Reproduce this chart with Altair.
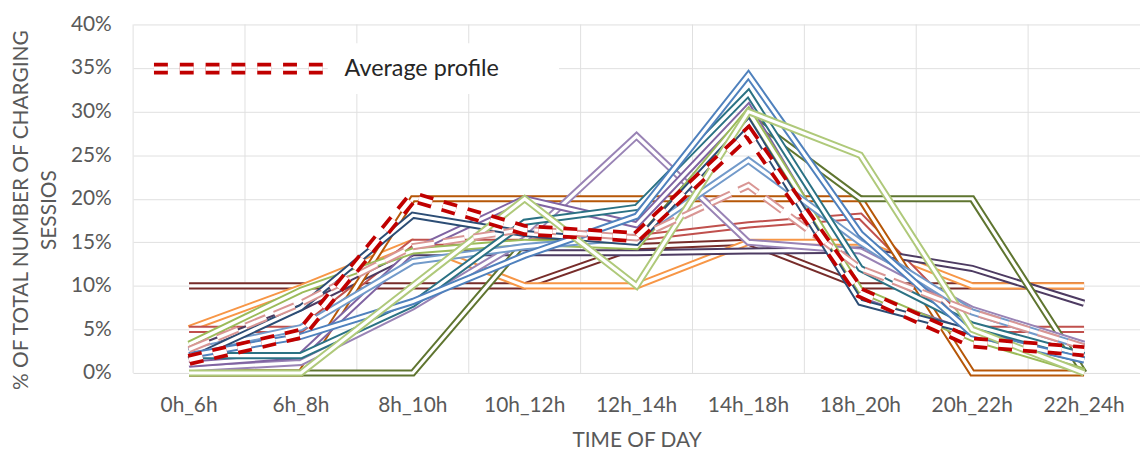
import altair as alt
import pandas as pd

categories = ["0h_6h", "6h_8h", "8h_10h", "10h_12h", "12h_14h",
              "14h_18h", "18h_20h", "20h_22h", "22h_24h"]

series_names = ["S01", "S02", "S03", "S04", "S05", "S06", "S07", "S08",
                "S09", "S10", "S11", "S12", "S13", "S14", "S15"]
series_colors = ["#772C2A", "#F79646", "#C0504D", "#4D3B62", "#B65708",
                 "#5F7530", "#9983B5", "#8064A2", "#9BBB59", "#729ACA",
                 "#2C4D75", "#2B7284", "#4F81BD", "#AFC97A", "#D99694"]
series_values = [
    [10, 10, 10, 10, 14.5, 15, 10, 10, 10],
    [5.1, 9.8, 15, 10, 10, 15, 15, 10, 10],
    [5, 5, 15, 15, 15.5, 17, 18, 5, 5],
    [2.5, 7.5, 13.8, 13.8, 13.8, 14, 14.1, 12, 8],
    [0, 0, 20, 20, 20, 20, 20, 0, 0],
    [0, 0, 0, 15, 15, 29.5, 20, 20, 0],
    [0.5, 1.2, 7.6, 15.3, 27.2, 15, 14, 7.3, 3.3],
    [1, 2, 14, 20, 17, 30.5, 9, 4.5, 2],
    [3.3, 9.5, 14, 15, 14.5, 30, 9.5, 4, 0.2],
    [2.5, 5.2, 12.8, 14.5, 15.6, 24.4, 15, 7, 3],
    [1.5, 7.5, 18.1, 16, 15, 28.8, 8.1, 4.7, 1.5],
    [2, 2, 7.9, 17.3, 19, 32.1, 12, 5.5, 2],
    [2, 4.2, 8.2, 13.5, 18, 34.2, 16, 4.5, 1.5],
    [0, 0, 10, 20, 10, 30, 25, 5, 0],
    [2.7, 8, 14.5, 16.5, 15.5, 21.5, 12, 7, 3],
]
dashed_series = ["S15"]

average_name = "Average profile"
average_values = [1.5, 4.5, 20.2, 16.4, 15.6, 27.6, 9.2, 3.5, 2.5]
average_color = "#C00000"

y_ticks = [0, 5, 10, 15, 20, 25, 30, 35, 40]
y_title_lines = ["% OF TOTAL NUMBER OF CHARGING", "SESSIOS"]
x_title = "TIME OF DAY"

FONT = "Lato"
GRID = "#e0e0e0"
TEXT = "#595959"

W, H = 1014, 351
PLOT_LEFT, PLOT_TOP = 134, 23   # page position of the plot area

x_scale = alt.Scale(type="band", domain=categories, paddingInner=0, paddingOuter=0)
y_scale = alt.Scale(domain=[0, 40], nice=False, zero=True)

x_axis = alt.Axis(title=x_title, grid=False, ticks=False, domain=True,
                  domainColor=GRID, labelAngle=0, labelBaseline="alphabetic",
                  labelPadding=39, titleX=W / 2, titleY=74,
                  titleBaseline="alphabetic", titleAlign="center")
y_axis = alt.Axis(title=None, values=y_ticks, grid=True, gridColor=GRID,
                  ticks=False, domain=False, labelPadding=22,
                  labelExpr="datum.value + '%'")


def xenc(pos=0.5):
    return alt.X("time:N", scale=x_scale, axis=x_axis, bandPosition=pos)


def yenc():
    return alt.Y("value:Q", scale=y_scale, axis=y_axis)


def frame(name, vals):
    return pd.DataFrame({"series": name, "time": categories, "value": vals,
                         "idx": list(range(len(categories)))})


df_cats = pd.DataFrame({"time": categories})
df_leg = pd.DataFrame({"label": [average_name]})

layers = [alt.Chart(df_cats).mark_rule(color=GRID, strokeWidth=1).encode(x=xenc(0))]

# each series drawn as an Excel-like "double" compound line:
# a wide coloured stroke with a white core on top
OUT, CORE = 7.2, 3.2
for name, col, vals in zip(series_names, series_colors, series_values):
    d = frame(name, vals)
    kw = {"strokeDash": [22, 9]} if name in dashed_series else {}
    layers.append(alt.Chart(d).mark_line(strokeWidth=OUT, color=col, **kw).encode(
        x=xenc(), y=yenc(), order=alt.Order("idx:Q")))
    layers.append(alt.Chart(d).mark_line(strokeWidth=CORE, color="white", **kw).encode(
        x=xenc(), y=yenc(), order=alt.Order("idx:Q")))

AOUT, ACORE, ADASH = 12, 4.5, [14, 11]
d_avg = frame(average_name, average_values)
layers.append(alt.Chart(d_avg).mark_line(strokeWidth=AOUT, color=average_color,
                                         strokeDash=ADASH).encode(
    x=xenc(), y=yenc(), order=alt.Order("idx:Q")))
layers.append(alt.Chart(d_avg).mark_line(strokeWidth=ACORE, color="white",
                                         strokeDash=ADASH).encode(
    x=xenc(), y=yenc(), order=alt.Order("idx:Q")))

# legend
layers.append(alt.Chart(df_leg).mark_rect(color="white").encode(
    x=alt.value(330 - PLOT_LEFT), x2=alt.value(563 - PLOT_LEFT),
    y=alt.value(42 - PLOT_TOP), y2=alt.value(93 - PLOT_TOP)))
for w, c in ((AOUT, average_color), (ACORE, "white")):
    layers.append(alt.Chart(df_leg).mark_rule(color=c, strokeWidth=w,
                                              strokeDash=[14, 12]).encode(
        x=alt.value(155 - PLOT_LEFT), x2=alt.value(325 - PLOT_LEFT),
        y=alt.value(67.5 - PLOT_TOP)))
layers.append(alt.Chart(df_leg).mark_text(align="left", baseline="alphabetic",
                                          font=FONT, fontSize=23.5,
                                          color="#262626").encode(
    x=alt.value(347 - PLOT_LEFT), y=alt.value(75 - PLOT_TOP), text="label:N"))

# y axis title (two lines, rotated)
df_yt = pd.DataFrame({"t": y_title_lines, "k": [0, 1]})
for k, xpos in ((0, 22.5), (1, 50.5)):
    layers.append(alt.Chart(df_yt[df_yt["k"] == k]).mark_text(
        angle=270, align="center", baseline="middle", font=FONT, fontSize=21,
        color=TEXT).encode(
        x=alt.value(xpos - PLOT_LEFT), y=alt.value(210 - PLOT_TOP), text="t:N"))

chart = alt.layer(*layers).properties(
    width=W, height=H,
    autosize=alt.AutoSizeParams(type="none"),
    padding={"left": 126, "top": 15, "right": 0, "bottom": 76},
    background="white",
).configure_view(stroke=None).configure_axis(
    labelFont=FONT, labelFontSize=21, labelColor=TEXT,
    titleFont=FONT, titleFontSize=21, titleFontWeight="normal", titleColor=TEXT,
)

chart.save("out.html", embed_options={"renderer": "svg", "actions": False})
